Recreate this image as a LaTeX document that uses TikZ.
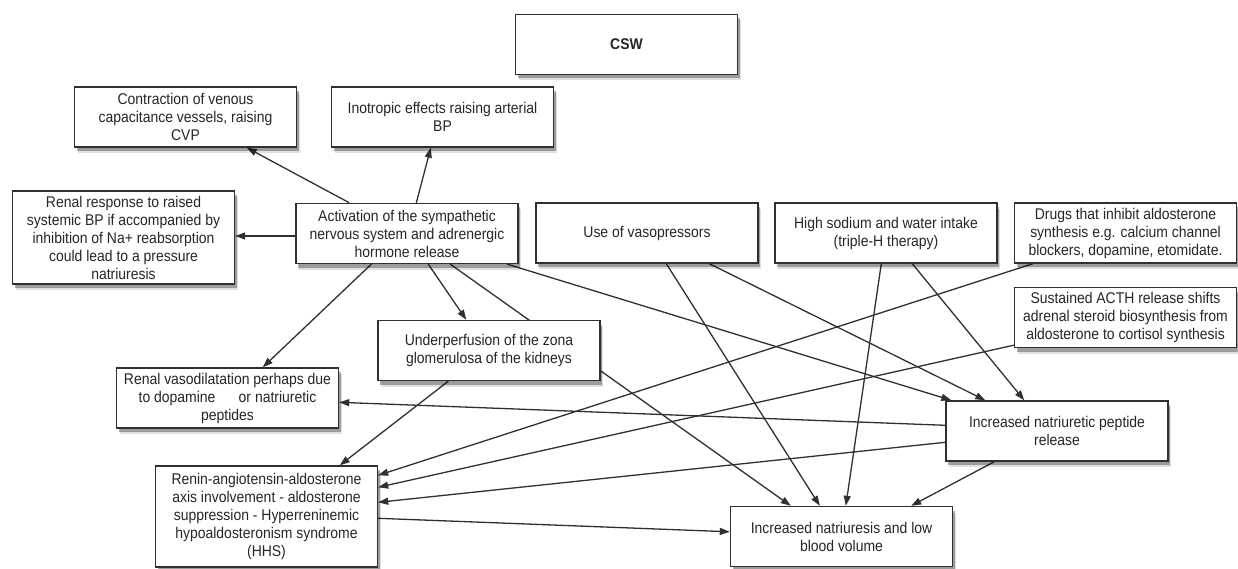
\documentclass[tikz,border=0pt]{standalone}
\usepackage{fontspec}
\setmainfont{Liberation Sans}[FakeStretch=0.9]
\usetikzlibrary{arrows.meta,shadows,calc}
\pgfdeclarelayer{bg}
\pgfsetlayers{bg,main}
\definecolor{ink}{HTML}{262626}
\definecolor{edgec}{HTML}{303030}
\tikzset{
  box/.style={draw=edgec, line width=1.4pt, fill=white, align=center, inner sep=2pt,
    minimum width=222pt, minimum height=60pt, text=ink,
    font=\fontsize{15.5}{18}\selectfont,
    drop shadow={shadow xshift=3pt, shadow yshift=-6pt, opacity=0.12, fill=black},
    drop shadow={shadow xshift=2pt, shadow yshift=-4pt, opacity=0.3, fill=black}},
  arr/.style={draw=edgec, line width=1.3pt, -{Triangle[length=10pt,width=7pt]}},
}
\begin{document}
\begin{tikzpicture}[x=1pt,y=-1pt]
\useasboundingbox (0,0) rectangle (1238,569);

\node[box] (csw) at (626.5,44.5) {\textbf{CSW}};
\node[box] (contr) at (185.5,117) {Contraction of venous\\capacitance vessels, raising\\CVP};
\node[box] (inotr) at (442.5,117) {Inotropic effects raising arterial\\BP};
\node[box, minimum height=93pt] (renresp) at (123.5,237.5) {Renal response to raised\\systemic BP if accompanied by\\inhibition of Na+ reabsorption\\could lead to a pressure\\natriuresis};
\node[box] (activ) at (407,233.5) {Activation of the sympathetic\\nervous system and adrenergic\\hormone release};
\node[box] (vaso) at (647,233) {Use of vasopressors};
\node[box] (sodium) at (886,233) {High sodium and water intake\\(triple-H therapy)};
\node[box] (drugs) at (1125.5,233) {Drugs that inhibit aldosterone\\synthesis e.g. calcium channel\\blockers, dopamine, etomidate.};
\node[box] (acth) at (1125.5,317.5) {Sustained ACTH release shifts\\adrenal steroid biosynthesis from\\aldosterone to cortisol synthesis};
\node[box] (under) at (489,350.5) {Underperfusion of the zona\\glomerulosa of the kidneys};
\node[box] (vasod) at (227.5,398) {Renal vasodilatation perhaps due\\to dopamine \quad\ or natriuretic\\peptides};
\node[box, minimum height=101pt] (renin) at (266.5,516.5) {Renin-angiotensin-aldosterone\\axis involvement - aldosterone\\suppression - Hyperreninemic\\hypoaldosteronism syndrome\\(HHS)};
\node[box] (pept) at (1057,431) {Increased natriuretic peptide\\release};
\node[box] (natri) at (841.5,536.5) {Increased natriuresis and low\\blood volume};

\begin{pgfonlayer}{bg}
\draw[arr] ([xshift=54pt]activ.north west) -- ([xshift=173pt]contr.south west);
\draw[arr] ([xshift=121pt]activ.north west) -- ([xshift=100pt]inotr.south west);
\draw[arr] ([yshift=-2.5pt]activ.west) -- ([yshift=1.5pt]renresp.east);
\draw[arr] ([xshift=76pt]activ.south west) -- ([xshift=147pt]vasod.north west);
\draw[arr] ([xshift=133pt]activ.south west) -- ([xshift=89pt]under.north west);
\draw[arr] ([xshift=155pt]activ.south west) -- ([xshift=61pt]natri.north west);
\draw[arr] ([xshift=212pt]activ.south west) -- ([xshift=6pt]pept.north west);
\draw[arr] ([xshift=71pt]under.south west) -- ([xshift=185pt]renin.north west);
\draw[arr] ([xshift=131pt]vaso.south west) -- ([xshift=90pt]natri.north west);
\draw[arr] ([xshift=174pt]vaso.south west) -- ([xshift=40pt]pept.north west);
\draw[arr] ([xshift=107pt]sodium.south west) -- ([xshift=116pt]natri.north west);
\draw[arr] ([xshift=138pt]sodium.south west) -- ([xshift=79pt]pept.north west);
\draw[arr] ([xshift=19pt]drugs.south west) -- ([yshift=-10pt]renin.north east);
\draw[arr] ([yshift=3pt]acth.south west) -- ([yshift=-22pt]renin.north east);
\draw[arr] ([yshift=-25pt]pept.north west) -- ([yshift=-35pt]vasod.north east);
\draw[arr] ([yshift=-42pt]pept.north west) -- ([yshift=-37pt]renin.north east);
\draw[arr] ([xshift=49pt]pept.south west) -- ([xshift=-42pt]natri.north east);
\draw[arr] ([yshift=-53pt]renin.north east) -- ([yshift=-26pt]natri.north west);
\end{pgfonlayer}
\end{tikzpicture}
\end{document}
